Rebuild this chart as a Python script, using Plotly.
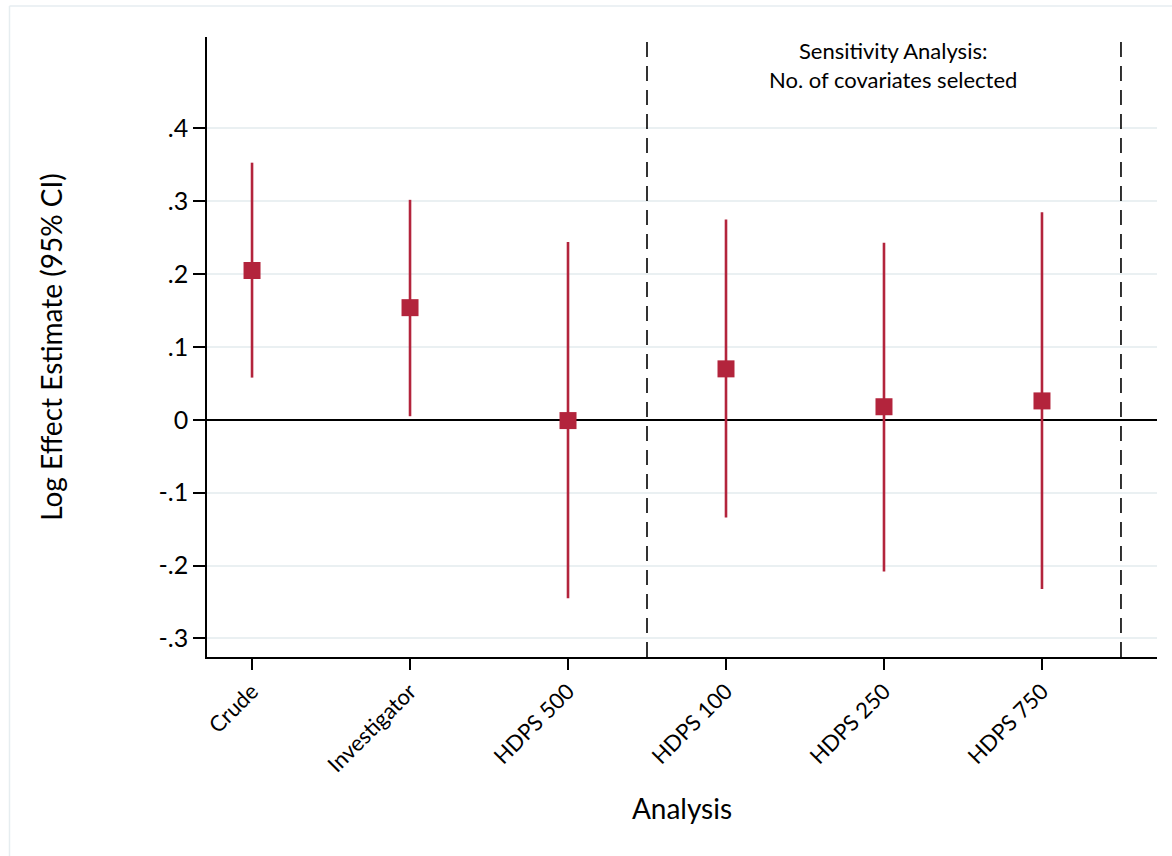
import plotly.graph_objects as go

# Estimates and 95% confidence limits by analysis
analyses = ["Crude", "Investigator", "HDPS 500", "HDPS 100", "HDPS 250", "HDPS 750"]
estimate = [0.205, 0.154, -0.001, 0.070, 0.018, 0.026]
ci_lower = [0.058, 0.005, -0.245, -0.134, -0.208, -0.232]
ci_upper = [0.353, 0.302, 0.244, 0.275, 0.243, 0.285]

y_ticks = [0.4, 0.3, 0.2, 0.1, 0.0, -0.1, -0.2, -0.3]
y_tick_text = [".4", ".3", ".2", ".1", "0", "-.1", "-.2", "-.3"]

# Boundaries of the sensitivity-analysis block (between category positions)
block_edges = [2.5, 5.5]

RED = "#b3243c"
FONT = "Lato, 'Open Sans', sans-serif"

x_pos = list(range(len(analyses)))

fig = go.Figure()
fig.add_trace(go.Scatter(
    x=x_pos,
    y=estimate,
    mode="markers",
    marker=dict(symbol="square", size=17, color=RED),
    error_y=dict(
        type="data",
        symmetric=False,
        array=[u - e for u, e in zip(ci_upper, estimate)],
        arrayminus=[e - l for e, l in zip(estimate, ci_lower)],
        color=RED,
        thickness=2.6,
        width=0,
    ),
    showlegend=False,
    hoverinfo="skip",
))

for xe in block_edges:
    fig.add_shape(type="line", xref="x", yref="paper", x0=xe, x1=xe, y0=0, y1=1,
                  line=dict(color="black", width=1.6, dash="15px,9px"), layer="above")

# outer graph-region frame
fig.add_shape(type="line", xref="paper", yref="paper", x0=-0.2079, x1=1.2, y0=1.05, y1=1.05,
              line=dict(color="#e6edf0", width=1.5))
fig.add_shape(type="line", xref="paper", yref="paper", x0=-0.2079, x1=-0.2079, y0=1.05, y1=-0.4,
              line=dict(color="#e6edf0", width=1.5))

fig.add_annotation(x=4.06, y=0.487, xref="x", yref="y",
                   text="Sensitivity Analysis:<br>No. of covariates selected",
                   showarrow=False, font=dict(family=FONT, size=22, color="black"),
                   align="center")

fig.update_layout(
    width=1172, height=856,
    margin=dict(l=207, r=15, t=37, b=199),
    paper_bgcolor="white",
    plot_bgcolor="white",
    font=dict(family=FONT, color="black"),
    xaxis=dict(
        range=[-0.285, 5.728],
        tickvals=x_pos,
        ticktext=analyses,
        tickangle=-45,
        tickfont=dict(size=22),
        ticks="outside", ticklen=11, tickwidth=1.6, tickcolor="black",
        showline=True, linecolor="black", linewidth=1.6,
        showgrid=False, zeroline=False,
        title=dict(text="Analysis", font=dict(size=28), standoff=23),
    ),
    yaxis=dict(
        range=[-0.3255, 0.5255],
        tickvals=y_ticks,
        ticktext=y_tick_text,
        tickfont=dict(size=25),
        ticks="outside", ticklen=12, tickwidth=1.6, tickcolor="black",
        showline=True, linecolor="black", linewidth=1.6,
        showgrid=True, gridcolor="#eaf0f2", gridwidth=2,
        zeroline=True, zerolinecolor="black", zerolinewidth=1.6,
        title=dict(text="Log Effect Estimate (95% CI)", font=dict(size=28), standoff=88),
    ),
)

fig.write_html("out.html")
